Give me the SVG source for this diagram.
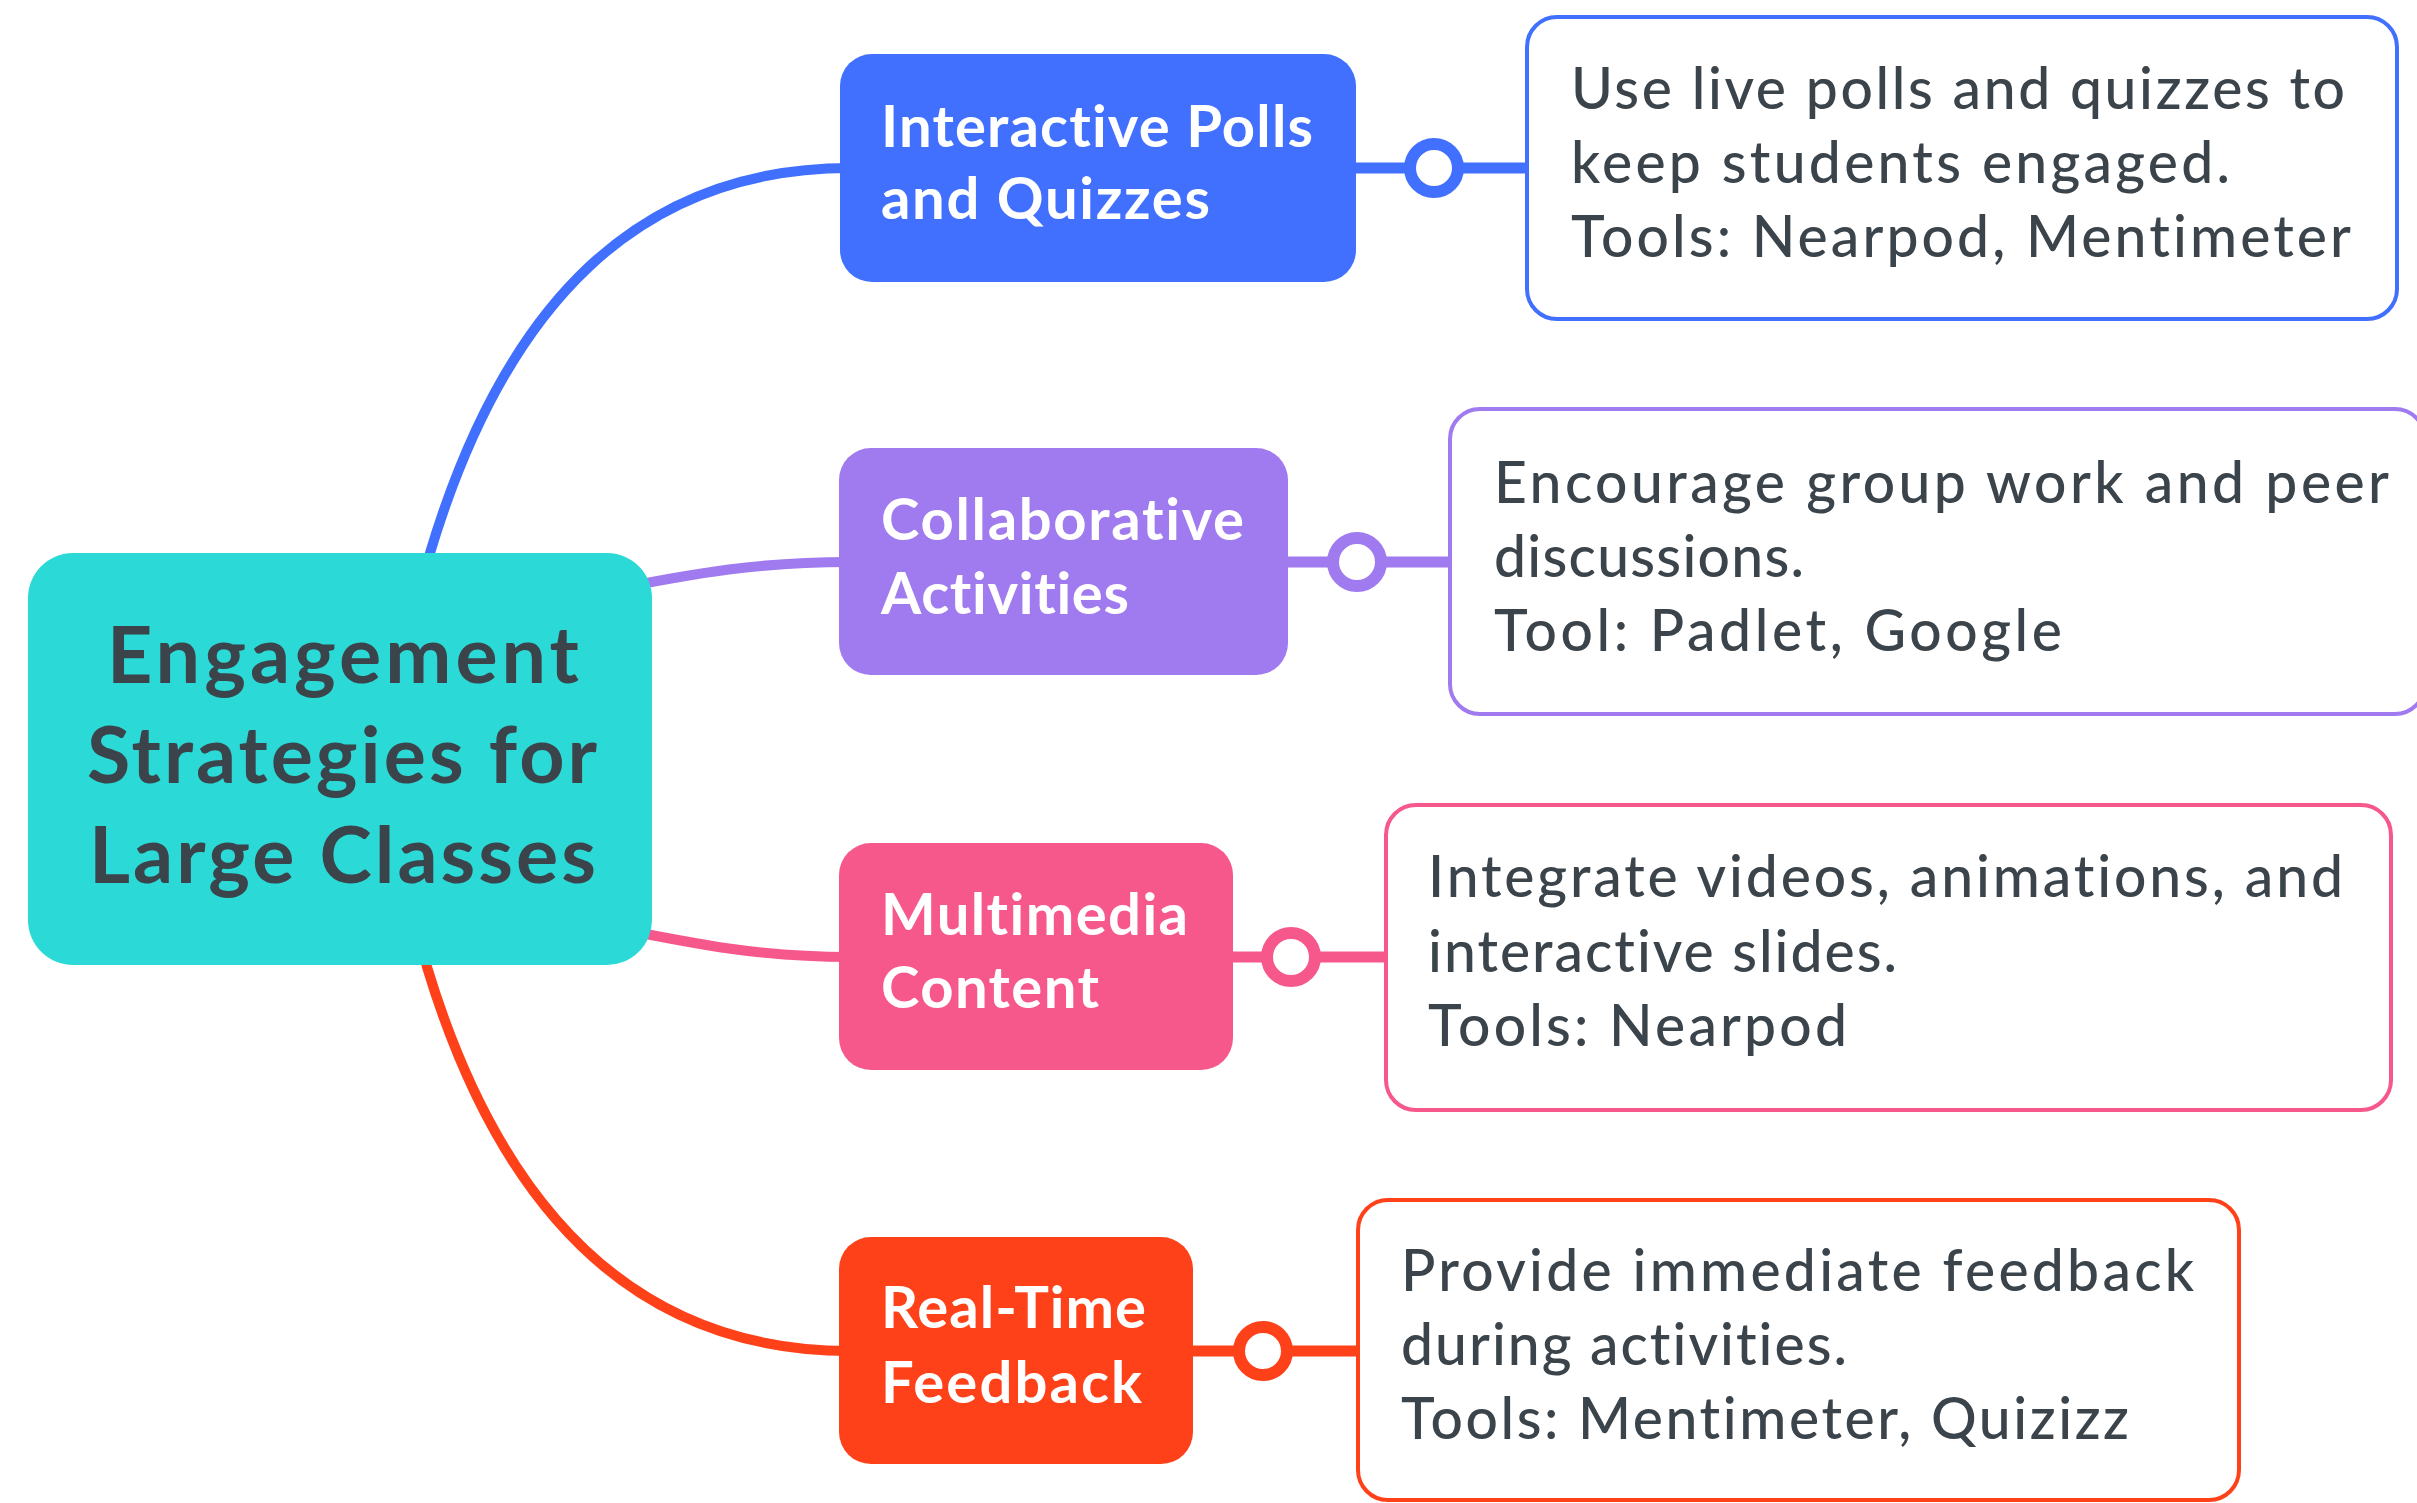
<svg xmlns="http://www.w3.org/2000/svg" width="2417" height="1503" viewBox="0 0 2417 1503">
<style>
text{font-variant-ligatures:none;font-feature-settings:"liga" 0,"clig" 0;}
.root-t{font-family:Lato,"Open Sans","Liberation Sans",sans-serif;font-weight:700;font-size:79px;fill:#3B444B;}
.node-t{font-family:Lato,"Open Sans","Liberation Sans",sans-serif;font-weight:700;font-size:58px;fill:#FFFFFF;}
.det-t{font-family:Lato,"Open Sans","Liberation Sans",sans-serif;font-weight:500;font-size:57px;fill:#3B444B;}
.curve{fill:none;stroke-width:10;stroke-linecap:round;stroke-linejoin:round;}
.link{fill:none;stroke-width:11;}
.knob{fill:#FFFFFF;stroke-width:12;}
.det{fill:#FFFFFF;stroke-width:4;}
</style>
<rect width="2417" height="1503" fill="#FFFFFF"/>
<g id="connectors">
  <path class="curve" stroke="#4170FF" d="M 418 590 L 430 553 C 505 303 639 168 850 168"/>
  <path class="curve" stroke="#A07AEF" d="M 600 592 C 700 572 760 562 850 562"/>
  <path class="curve" stroke="#F7588C" d="M 600 925 C 700 945 760 957 850 957"/>
  <path class="curve" stroke="#FF4119" d="M 418 930 L 427 967 C 502 1215 639 1351 850 1351"/>
  <line class="link" stroke="#4170FF" x1="1350" y1="168" x2="1527" y2="168"/>
  <circle class="knob" stroke="#4170FF" cx="1434" cy="168" r="24"/>
  <line class="link" stroke="#A07AEF" x1="1282" y1="562" x2="1450" y2="562"/>
  <circle class="knob" stroke="#A07AEF" cx="1357" cy="562" r="24"/>
  <line class="link" stroke="#F7588C" x1="1227" y1="957" x2="1386" y2="957"/>
  <circle class="knob" stroke="#F7588C" cx="1291" cy="957" r="24"/>
  <line class="link" stroke="#FF4119" x1="1187" y1="1351" x2="1358" y2="1351"/>
  <circle class="knob" stroke="#FF4119" cx="1263" cy="1351" r="24"/>
</g>
<g id="root">
  <rect x="28" y="553" width="624" height="412" rx="45" fill="#2BD9D7"/>
  <text class="root-t" x="107" y="683" textLength="472" lengthAdjust="spacing">Engagement</text>
  <text class="root-t" x="87" y="783" textLength="510" lengthAdjust="spacing">Strategies for</text>
  <text class="root-t" x="89" y="883" textLength="507" lengthAdjust="spacing">Large Classes</text>
</g>
<g id="node-polls">
  <rect x="840" y="54" width="516" height="228" rx="32" fill="#4170FF"/>
  <text class="node-t" x="881" y="147" textLength="432" lengthAdjust="spacing">Interactive Polls</text>
  <text class="node-t" x="881" y="219" textLength="329" lengthAdjust="spacing">and Quizzes</text>
</g>
<g id="node-collab">
  <rect x="839" y="448" width="449" height="227" rx="32" fill="#A07AEF"/>
  <text class="node-t" x="881" y="540" textLength="363" lengthAdjust="spacing">Collaborative</text>
  <text class="node-t" x="881" y="614" textLength="248" lengthAdjust="spacing">Activities</text>
</g>
<g id="node-multimedia">
  <rect x="839" y="843" width="394" height="227" rx="32" fill="#F7588C"/>
  <text class="node-t" x="881" y="935" textLength="307" lengthAdjust="spacing">Multimedia</text>
  <text class="node-t" x="881" y="1008" textLength="218" lengthAdjust="spacing">Content</text>
</g>
<g id="node-feedback">
  <rect x="839" y="1237" width="354" height="227" rx="32" fill="#FF4119"/>
  <text class="node-t" x="881" y="1328" textLength="265" lengthAdjust="spacing">Real-Time</text>
  <text class="node-t" x="881" y="1403" textLength="261" lengthAdjust="spacing">Feedback</text>
</g>
<g id="detail-polls">
  <rect class="det" stroke="#4170FF" x="1527" y="17" width="870" height="302" rx="30"/>
  <text class="det-t" x="1571" y="109" textLength="774" lengthAdjust="spacing">Use live polls and quizzes to</text>
  <text class="det-t" x="1571" y="183" textLength="659" lengthAdjust="spacing">keep students engaged.</text>
  <text class="det-t" x="1571" y="257" textLength="780" lengthAdjust="spacing">Tools: Nearpod, Mentimeter</text>
</g>
<g id="detail-collab">
  <rect class="det" stroke="#A07AEF" x="1450" y="409" width="975" height="305" rx="30"/>
  <text class="det-t" x="1494" y="503" textLength="895" lengthAdjust="spacing">Encourage group work and peer</text>
  <text class="det-t" x="1494" y="577" textLength="310" lengthAdjust="spacing">discussions.</text>
  <text class="det-t" x="1494" y="651" textLength="568" lengthAdjust="spacing">Tool: Padlet, Google</text>
</g>
<g id="detail-multimedia">
  <rect class="det" stroke="#F7588C" x="1386" y="805" width="1005" height="305" rx="30"/>
  <text class="det-t" x="1428" y="897" textLength="915" lengthAdjust="spacing">Integrate videos, animations, and</text>
  <text class="det-t" x="1428" y="972" textLength="469" lengthAdjust="spacing">interactive slides.</text>
  <text class="det-t" x="1428" y="1046" textLength="419" lengthAdjust="spacing">Tools: Nearpod</text>
</g>
<g id="detail-feedback">
  <rect class="det" stroke="#FF4119" x="1358" y="1200" width="881" height="300" rx="30"/>
  <text class="det-t" x="1401" y="1291" textLength="793" lengthAdjust="spacing">Provide immediate feedback</text>
  <text class="det-t" x="1401" y="1365" textLength="446" lengthAdjust="spacing">during activities.</text>
  <text class="det-t" x="1401" y="1439" textLength="728" lengthAdjust="spacing">Tools: Mentimeter, Quizizz</text>
</g>
</svg>
